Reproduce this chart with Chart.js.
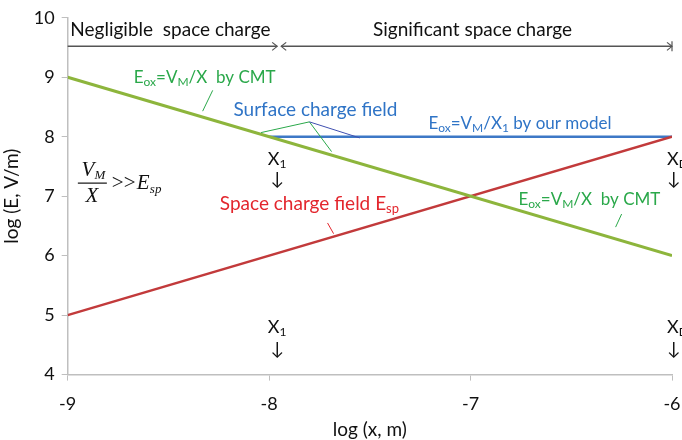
<!DOCTYPE html>
<html>
<head>
<meta charset="utf-8">
<script src="https://cdn.jsdelivr.net/npm/chart.js@4"></script>
<style>
  html, body { margin: 0; padding: 0; background: #fff; }
  #wrap { width: 682px; height: 440px; }
</style>
</head>
<body>
<div id="wrap"><canvas id="chart" width="682" height="440"></canvas></div>
<script>
// log(x) positions and log(E) values
const xCMT = [-9, -6];
const eCMT = [9, 6];
const xSpace = [-9, -6];
const eSpace = [5, 8];
const xModel = [-8, -6];
const eModel = [8, 8];
const xTicks = [-9, -8, -7, -6];
const yTicks = [4, 5, 6, 7, 8, 9, 10];

const FONT = "Lato, 'Open Sans', sans-serif";
const GREEN_TXT = "#2aa84a";
const BLUE_TXT = "#2f74c6";
const RED_TXT = "#e3262d";

function pts(xs, ys) {
    return xs.map(function (x, i) { return { x: x, y: ys[i] }; });
}

// draw text made of normal / subscript pieces, centred or left aligned
function richText(ctx, parts, x, y, size, color, align) {
    ctx.save();
    ctx.fillStyle = color;
    ctx.textBaseline = "middle";
    ctx.textAlign = "left";
    let w = 0;
    parts.forEach(function (p) {
        ctx.font = (p[1] ? Math.round(size * 0.68) : size) + "px " + FONT;
        w += ctx.measureText(p[0]).width;
    });
    let cx = align === "left" ? x : x - w / 2;
    parts.forEach(function (p) {
        ctx.font = (p[1] ? Math.round(size * 0.68) : size) + "px " + FONT;
        ctx.fillText(p[0], cx, p[1] ? y + size * 0.28 : y);
        cx += ctx.measureText(p[0]).width;
    });
    ctx.restore();
}

function seg(ctx, x1, y1, x2, y2, color, w) {
    ctx.save();
    ctx.strokeStyle = color;
    ctx.lineWidth = w;
    ctx.beginPath();
    ctx.moveTo(x1, y1);
    ctx.lineTo(x2, y2);
    ctx.stroke();
    ctx.restore();
}

function arrowHead(ctx, x, y, dir, color) {
    ctx.save();
    ctx.strokeStyle = color;
    ctx.lineWidth = 1.2;
    ctx.beginPath();
    ctx.moveTo(x - dir * 5, y - 4);
    ctx.lineTo(x, y);
    ctx.lineTo(x - dir * 5, y + 4);
    ctx.stroke();
    ctx.restore();
}

const notes = {
    id: "notes",
    afterDatasetsDraw(chart) {
        const ctx = chart.ctx;
        const sx = chart.scales.x, sy = chart.scales.y;
        const X = function (v) { return sx.getPixelForValue(v); };
        const Y = function (v) { return sy.getPixelForValue(v); };

        // regime bar on top
        const yb = Y(9.52);
        seg(ctx, X(-9), yb, X(-7.96), yb, "#555", 1.5);
        seg(ctx, X(-7.94), yb, X(-6), yb, "#555", 1.5);
        arrowHead(ctx, X(-7.96), yb, 1, "#555");
        arrowHead(ctx, X(-7.94), yb, -1, "#555");
        arrowHead(ctx, X(-6), yb, 1, "#555");
        seg(ctx, X(-6), yb - 5, X(-6), yb + 5, "#555", 1.2);
        richText(ctx, [["Negligible  space charge"]], X(-8.49), Y(9.8), 19, "#111", "center");
        richText(ctx, [["Significant space charge"]], X(-6.99), Y(9.8), 19, "#111", "center");

        // CMT label (upper)
        richText(ctx, [["E"], ["ox", 1], ["=V"], ["M", 1], ["/X  by CMT"]], X(-8.32), Y(9.0), 17, GREEN_TXT, "center");
        seg(ctx, X(-8.28), Y(8.78), X(-8.33), Y(8.43), GREEN_TXT, 1);

        // surface charge field label and leaders
        richText(ctx, [["Surface charge field"]], X(-7.77), Y(8.45), 19, BLUE_TXT, "center");
        seg(ctx, X(-7.80), Y(8.25), X(-8.04), Y(8.07), GREEN_TXT, 1);
        seg(ctx, X(-7.80), Y(8.25), X(-7.69), Y(7.75), GREEN_TXT, 1);
        seg(ctx, X(-7.80), Y(8.25), X(-7.55), Y(7.98), "#3f4fb0", 1);

        richText(ctx, [["E"], ["ox", 1], ["=V"], ["M", 1], ["/X"], ["1", 1], [" by our model"]], X(-6.755), Y(8.22), 17, BLUE_TXT, "center");

        // CMT label (lower)
        richText(ctx, [["E"], ["ox", 1], ["=V"], ["M", 1], ["/X  by CMT"]], X(-6.41), Y(6.95), 17, GREEN_TXT, "center");
        seg(ctx, X(-6.25), Y(6.70), X(-6.28), Y(6.48), GREEN_TXT, 1);

        // space charge label
        richText(ctx, [["Space charge field E"], ["sp", 1]], X(-7.80), Y(6.87), 19, RED_TXT, "center");
        seg(ctx, X(-7.71), Y(6.55), X(-7.68), Y(6.37), RED_TXT, 1);

        // X1 / XD markers
        [[7.63, 7.28], [4.8, 4.42]].forEach(function (r) {
            richText(ctx, [["X"], ["1", 1]], X(-7.96), Y(r[0]), 18, "#111", "center");
            richText(ctx, [["↓"]], X(-7.96), Y(r[1]), 18, "#111", "center");
            richText(ctx, [["X"], ["D", 1]], X(-6.025), Y(r[0]), 18, "#111", "left");
            richText(ctx, [["↓"]], X(-6.025), Y(r[1]), 18, "#111", "left");
        });

        // VM/X >> Esp
        ctx.save();
        ctx.fillStyle = "#111";
        ctx.textBaseline = "middle";
        ctx.textAlign = "center";
        const fx = X(-8.88), fy = Y(7.22);
        ctx.font = "italic 21px 'Liberation Serif', serif";
        ctx.fillText("V", fx - 4, fy - 13);
        ctx.font = "italic 13px 'Liberation Serif', serif";
        ctx.fillText("M", fx + 8, fy - 8);
        ctx.font = "italic 21px 'Liberation Serif', serif";
        ctx.fillText("X", fx, fy + 13);
        seg(ctx, fx - 14, fy, fx + 15, fy, "#111", 1.2);
        ctx.textAlign = "left";
        ctx.font = "21px 'Liberation Serif', serif";
        ctx.fillText(">>", fx + 20, fy);
        ctx.font = "italic 21px 'Liberation Serif', serif";
        ctx.fillText("E", fx + 45, fy);
        ctx.font = "italic 13px 'Liberation Serif', serif";
        ctx.fillText("sp", fx + 58, fy + 6);
        ctx.restore();
    }
};

new Chart(document.getElementById("chart").getContext("2d"), {
    type: "scatter",
    data: {
        datasets: [
            { data: pts(xCMT, eCMT), showLine: true, borderColor: "#8db53c", borderWidth: 3, pointRadius: 0 },
            { data: pts(xSpace, eSpace), showLine: true, borderColor: "#c23a3b", borderWidth: 2.5, pointRadius: 0 },
            { data: pts(xModel, eModel), showLine: true, borderColor: "#3d78c6", borderWidth: 2.5, pointRadius: 0 }
        ]
    },
    options: {
        responsive: false,
        animation: false,
        layout: { padding: { top: 2, right: 0, left: 0, bottom: 0 } },
        plugins: { legend: { display: false }, tooltip: { enabled: false } },
        scales: {
            x: {
                type: "linear", min: -9, max: -6,
                afterBuildTicks: function (s) { s.ticks = xTicks.map(function (v) { return { value: v }; }); },
                afterFit: function (s) { s.paddingRight = 10; s.paddingLeft = 0; },
                grid: { drawOnChartArea: false, color: "#bfbfbf", tickLength: 6 },
                border: { color: "#bfbfbf", width: 1.5 },
                ticks: { color: "#111", font: { family: FONT, size: 18 }, padding: 13 },
                title: { display: true, text: "log (x, m)", color: "#111", font: { family: FONT, size: 19 }, padding: { top: -10, bottom: -1 } }
            },
            y: {
                type: "linear", min: 4, max: 10,
                afterBuildTicks: function (s) { s.ticks = yTicks.map(function (v) { return { value: v }; }); },
                grid: { drawOnChartArea: false, color: "#bfbfbf", tickLength: 6 },
                border: { color: "#bfbfbf", width: 1.5 },
                ticks: { color: "#111", font: { family: FONT, size: 18 }, padding: 7 },
                title: { display: true, text: "log (E, V/m)", color: "#111", font: { family: FONT, size: 19 }, padding: { top: 0, bottom: 4 } }
            }
        }
    },
    plugins: [notes]
});
</script>
</body>
</html>
